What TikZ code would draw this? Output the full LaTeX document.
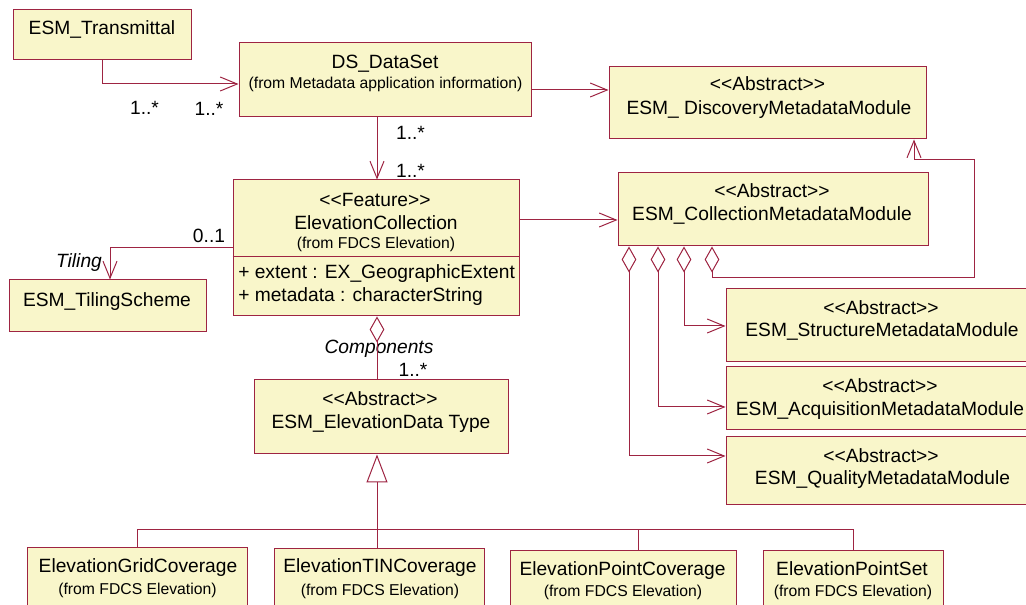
\documentclass[tikz,border=0pt]{standalone}
\usepackage{fontspec}
\setmainfont{Liberation Sans}
\usetikzlibrary{arrows.meta,fit}
\definecolor{fc}{RGB}{249,246,202}
\definecolor{lc}{RGB}{158,36,66}
\newcommand\myfnm{\fontsize{14.4}{17}\selectfont}
\newcommand\myfsm{\fontsize{11.8}{14}\selectfont}
\newcommand\stt[1]{<\kern0pt<#1>\kern0pt>}
\tikzset{
  umlbox/.style={draw=lc, fill=fc, line width=0.75pt, inner sep=0pt, rectangle},
  tn/.style={inner sep=0pt, font=\myfnm, text height=10.3pt, text depth=0pt},
  ts/.style={inner sep=0pt, font=\myfsm, text height=8.5pt, text depth=0pt},
  ti/.style={inner sep=0pt, font=\myfnm\itshape, text height=10.3pt, text depth=0pt},
  conn/.style={draw=lc, line width=0.75pt},
  umlbarb/.tip={Straight Barb[length=12.75pt,width=10.5pt]},
  umldia/.tip={Diamond[open,length=19.5pt,width=11pt]},
  umltri/.tip={Triangle[open,length=21pt,width=15.75pt]},
  nav/.style={conn, -umlbarb},
  agg/.style={conn, umldia-},
  aggnav/.style={conn, umldia-umlbarb},
  gen/.style={conn, -umltri},
}
\begin{document}
\begin{tikzpicture}[x=0.75pt,y=-0.75pt]
\useasboundingbox (0,0) rectangle (1026,605);
\fill[white] (0,0) rectangle (1026,605);
\begin{scope}
\clip (0,0) rectangle (1026,605);
% boxes
\node[umlbox, fit={(13,10) (191,60)}] (trans) {};
\node[umlbox, fit={(239,43) (531,117)}] (ds) {};
\node[umlbox, fit={(609,67) (926,139)}] (disc) {};
\node[umlbox, fit={(618,173) (928,246)}] (coll) {};
\node[umlbox, fit={(233,180) (519,316)}] (elev) {};
\node[umlbox, fit={(9,280) (206,332)}] (tiling) {};
\node[umlbox, fit={(254,380) (508,454)}] (edt) {};
\node[umlbox, fit={(726,289) (1038,362)}] (struct) {};
\node[umlbox, fit={(726,367) (1038,430)}] (acq) {};
\node[umlbox, fit={(726,437) (1038,505)}] (qual) {};
\node[umlbox, fit={(27,548) (247,625)}] (grid) {};
\node[umlbox, fit={(274,549) (484,625)}] (tin) {};
\node[umlbox, fit={(510,551) (736,625)}] (pcov) {};
\node[umlbox, fit={(763,551) (943,625)}] (pset) {};
\coordinate (div) at (0,257);
\draw[conn] (elev.west |- div) -- (elev.east |- div);
% texts
\node[tn] (transT) at (102,28) {ESM\_Transmittal};
\node[tn] (dsT) at (385,62) {DS\_DataSet};
\node[ts] (dsS) at (385.5,83) {(from Metadata application information)};
\node[tn] (discA) at (767.5,84) {\stt{Abstract}};
\node[tn] (discT) at (769,108) {ESM\_ DiscoveryMetadataModule};
\node[tn] (collA) at (772,191) {\stt{Abstract}};
\node[tn] (collT) at (772,214) {ESM\_CollectionMetadataModule};
\node[tn] (elevA) at (375,200) {\stt{Feature}};
\node[tn] (elevT) at (376,223) {ElevationCollection};
\node[ts] (elevS) at (376,243) {(from FDCS Elevation)};
\node[tn, anchor=west] (elevX) at (238,272) {+ extent : EX\_GeographicExtent};
\node[tn, anchor=west] (elevM) at (238,295) {+ metadata : characterString};
\node[tn] (tilT) at (107,299.5) {ESM\_TilingScheme};
\node[tn] (edtA) at (380,398.5) {\stt{Abstract}};
\node[tn] (edtT) at (381,422) {ESM\_ElevationData Type};
\node[tn] (strA) at (881,308) {\stt{Abstract}};
\node[tn] (strT) at (882,330) {ESM\_StructureMetadataModule};
\node[tn] (acqA) at (880,386) {\stt{Abstract}};
\node[tn] (acqT) at (880,409) {ESM\_AcquisitionMetadataModule};
\node[tn] (quaA) at (881,456) {\stt{Abstract}};
\node[tn] (quaT) at (882.5,478) {ESM\_QualityMetadataModule};
\node[tn] (gridT) at (138,566) {ElevationGridCoverage};
\node[ts] (gridS) at (137.5,589) {(from FDCS Elevation)};
\node[tn] (tinT) at (380,566) {ElevationTINCoverage};
\node[ts] (tinS) at (380,590) {(from FDCS Elevation)};
\node[tn] (pcovT) at (622.5,569) {ElevationPointCoverage};
\node[ts] (pcovS) at (623,591) {(from FDCS Elevation)};
\node[tn] (psetT) at (852,569) {ElevationPointSet};
\node[ts] (psetS) at (853,591) {(from FDCS Elevation)};
% labels
\node[tn] (m1) at (144.5,108) {1..*};
\node[tn] (m2) at (209,109) {1..*};
\node[tn] (m3) at (410.5,133) {1..*};
\node[tn] (m4) at (410.5,171) {1..*};
\node[tn] (m5) at (209,236) {0..1};
\node[ti] (tilL) at (79,261) {Tiling};
\node[ti] (compL) at (379,347) {Components};
\node[tn] (m6) at (413,370) {1..*};
% coordinates
\coordinate (c1) at (0,84);
\coordinate (c2) at (0,90);
\coordinate (c3) at (377,0);
\coordinate (c4) at (0,220);
\coordinate (c5) at (0,248);
\coordinate (c6) at (110,0);
\coordinate (c7) at (638,0);
\coordinate (bus) at (0,530);
\coordinate (d1) at (629,0);
\coordinate (d2) at (658,0);
\coordinate (d3) at (684,0);
\coordinate (d4) at (712,0);
\coordinate (r1) at (974,278);
\coordinate (r2) at (914,160);
\coordinate (y1) at (0,326);
\coordinate (y2) at (0,407);
\coordinate (y3) at (0,456);
% connectors
\draw[nav] (trans.south) |- (c1 -| ds.west);
\draw[nav] (c2 -| ds.east) -- (c2 -| disc.west);
\draw[nav] (c3 |- ds.south) -- (c3 |- elev.north);
\draw[nav] (c4 -| elev.east) -- (c4 -| coll.west);
\draw[nav] (c5 -| elev.west) -| (c6 |- tiling.north);
\draw[agg] (c3 |- elev.south) -- (c3 |- edt.north);
\draw[gen] (c3 |- tin.north) -- (c3 |- edt.south);
\draw[conn] (grid.north) |- (bus -| pset.north) -- (pset.north);
\draw[conn] (c7 |- bus) -- (c7 |- pcov.north);
\draw[aggnav] (d4 |- coll.south) |- (r1) |- (r2) -- (r2 |- disc.south);
\draw[aggnav] (d3 |- coll.south) |- (y1 -| struct.west);
\draw[aggnav] (d2 |- coll.south) |- (y2 -| acq.west);
\draw[aggnav] (d1 |- coll.south) |- (y3 -| qual.west);
\end{scope}
\end{tikzpicture}
\end{document}
